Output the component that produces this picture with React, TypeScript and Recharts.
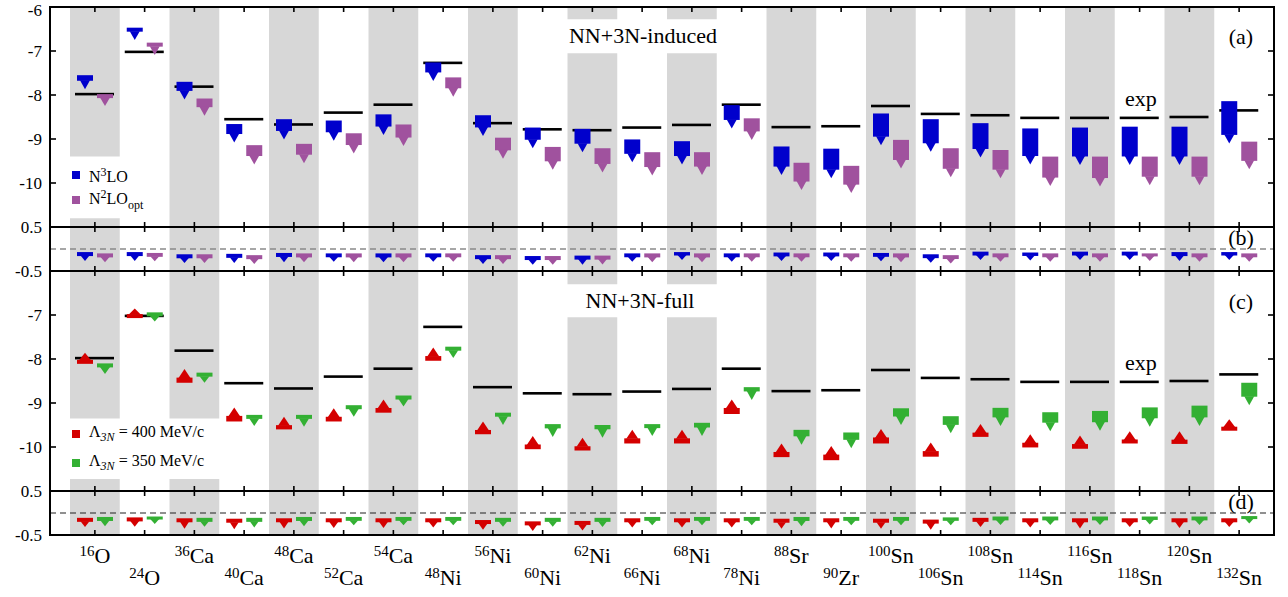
import React from 'react';
import { ComposedChart, Bar, XAxis, YAxis, ReferenceArea, ReferenceLine, Legend } from 'recharts';

// ---------- data ----------
const nuclei = ['16O', '24O', '36Ca', '40Ca', '48Ca', '52Ca', '54Ca', '48Ni', '56Ni', '60Ni', '62Ni', '66Ni', '68Ni', '78Ni', '88Sr', '90Zr', '100Sn', '106Sn', '108Sn', '114Sn', '116Sn', '118Sn', '120Sn', '132Sn'];
const massNumbers = ['16', '24', '36', '40', '48', '52', '54', '48', '56', '60', '62', '66', '68', '78', '88', '90', '100', '106', '108', '114', '116', '118', '120', '132'];
const elements = ['O', 'O', 'Ca', 'Ca', 'Ca', 'Ca', 'Ca', 'Ni', 'Ni', 'Ni', 'Ni', 'Ni', 'Ni', 'Ni', 'Sr', 'Zr', 'Sn', 'Sn', 'Sn', 'Sn', 'Sn', 'Sn', 'Sn', 'Sn'];

// experimental E/A (MeV)
const expEnergy = [-7.98, -7.02, -7.81, -8.55, -8.67, -8.40, -8.22, -7.27, -8.64, -8.78, -8.80, -8.74, -8.68, -8.22, -8.73, -8.71, -8.25, -8.43, -8.46, -8.52, -8.52, -8.52, -8.50, -8.35];

// (a) NN+3N-induced : [start, converged]
const n3loInduced = [[-7.55, -7.87], [-6.47, -6.75], [-7.70, -8.10], [-8.66, -9.08], [-8.55, -9.01], [-8.58, -9.04], [-8.44, -8.91], [-7.26, -7.68], [-8.46, -8.93], [-8.74, -9.21], [-8.77, -9.30], [-9.01, -9.53], [-9.05, -9.58], [-8.23, -8.76], [-9.17, -9.82], [-9.22, -9.89], [-8.42, -9.14], [-8.55, -9.29], [-8.64, -9.42], [-8.76, -9.58], [-8.74, -9.59], [-8.72, -9.59], [-8.72, -9.59], [-8.14, -9.10]];
const n2loOptInduced = [[-7.98, -8.25], [-6.81, -7.09], [-8.08, -8.47], [-9.14, -9.58], [-9.11, -9.55], [-8.87, -9.33], [-8.67, -9.16], [-7.60, -8.04], [-8.97, -9.45], [-9.18, -9.70], [-9.21, -9.76], [-9.30, -9.83], [-9.30, -9.82], [-8.53, -9.02], [-9.54, -10.16], [-9.61, -10.23], [-9.02, -9.67], [-9.21, -9.87], [-9.25, -9.89], [-9.40, -10.07], [-9.40, -10.08], [-9.40, -10.05], [-9.40, -10.05], [-9.06, -9.69]];

// (b) differences
const n3loDiff = [[-0.07, -0.27], [-0.07, -0.27], [-0.12, -0.32], [-0.11, -0.32], [-0.09, -0.30], [-0.10, -0.29], [-0.10, -0.30], [-0.10, -0.29], [-0.14, -0.34], [-0.16, -0.36], [-0.15, -0.36], [-0.10, -0.29], [-0.07, -0.25], [-0.10, -0.29], [-0.08, -0.27], [-0.08, -0.27], [-0.09, -0.28], [-0.12, -0.31], [-0.06, -0.25], [-0.08, -0.26], [-0.06, -0.25], [-0.06, -0.25], [-0.07, -0.27], [-0.07, -0.25]];
const n2loOptDiff = [[-0.10, -0.30], [-0.09, -0.28], [-0.12, -0.32], [-0.14, -0.34], [-0.10, -0.30], [-0.10, -0.30], [-0.10, -0.30], [-0.10, -0.29], [-0.14, -0.34], [-0.16, -0.36], [-0.15, -0.35], [-0.10, -0.30], [-0.10, -0.30], [-0.10, -0.29], [-0.10, -0.29], [-0.10, -0.29], [-0.10, -0.30], [-0.14, -0.33], [-0.10, -0.29], [-0.10, -0.29], [-0.10, -0.29], [-0.10, -0.27], [-0.10, -0.29], [-0.10, -0.29]];

// (c) NN+3N-full : [start, converged]
const lambda400Full = [[-8.11, -7.86], [-7.07, -6.85], [-8.54, -8.23], [-9.42, -9.10], [-9.60, -9.31], [-9.42, -9.12], [-9.22, -8.92], [-8.04, -7.74], [-9.71, -9.42], [-10.05, -9.75], [-10.08, -9.79], [-9.92, -9.61], [-9.92, -9.61], [-9.25, -8.92], [-10.23, -9.92], [-10.30, -9.98], [-9.92, -9.59], [-10.22, -9.90], [-9.77, -9.48], [-10.01, -9.71], [-10.04, -9.74], [-9.92, -9.64], [-9.93, -9.64], [-9.63, -9.37]];
const lambda350Full = [[-8.10, -8.34], [-6.94, -7.15], [-8.31, -8.54], [-9.27, -9.52], [-9.27, -9.54], [-9.05, -9.31], [-8.83, -9.08], [-7.72, -7.98], [-9.22, -9.50], [-9.48, -9.77], [-9.50, -9.79], [-9.48, -9.75], [-9.45, -9.75], [-8.64, -8.93], [-9.61, -9.95], [-9.67, -10.03], [-9.12, -9.50], [-9.30, -9.69], [-9.11, -9.52], [-9.21, -9.64], [-9.18, -9.63], [-9.10, -9.54], [-9.06, -9.52], [-8.54, -9.05]];

// (d) differences
const lambda400Diff = [[-0.11, -0.32], [-0.10, -0.31], [-0.12, -0.36], [-0.13, -0.37], [-0.12, -0.35], [-0.12, -0.34], [-0.12, -0.34], [-0.12, -0.33], [-0.16, -0.38], [-0.19, -0.41], [-0.18, -0.40], [-0.12, -0.33], [-0.12, -0.33], [-0.12, -0.33], [-0.13, -0.36], [-0.12, -0.35], [-0.13, -0.36], [-0.15, -0.38], [-0.11, -0.32], [-0.12, -0.33], [-0.12, -0.35], [-0.12, -0.32], [-0.12, -0.34], [-0.12, -0.32]];
const lambda350Diff = [[-0.09, -0.30], [-0.08, -0.24], [-0.11, -0.31], [-0.11, -0.33], [-0.09, -0.30], [-0.09, -0.28], [-0.09, -0.28], [-0.09, -0.28], [-0.11, -0.31], [-0.11, -0.31], [-0.11, -0.32], [-0.09, -0.28], [-0.09, -0.28], [-0.09, -0.28], [-0.09, -0.30], [-0.09, -0.28], [-0.09, -0.28], [-0.10, -0.28], [-0.08, -0.27], [-0.08, -0.27], [-0.08, -0.27], [-0.08, -0.26], [-0.08, -0.27], [-0.07, -0.24]];

const energyTicks = [-6, -7, -8, -9, -10];
const energyInnerTicks = [-7, -8, -9, -10];
const diffTicks = [0.5, -0.5];

// ---------- style / layout ----------
const FONT = '"Liberation Serif", "Times New Roman", Times, serif';
const BAND = '#d7d7d7';
const BLUE = '#0000cc';
const PURPLE = '#a0529e';
const RED = '#d40000';
const GREEN = '#33b033';
const LW = 2;
const AXIS = { stroke: '#000', strokeWidth: LW };
const CHART_W = 1288;
const Y_LEFT_W = 50;
const Y_RIGHT_W = 14;
const TOP_AXIS_H = 1;

const makeFlag = (color: string, dir: 'up' | 'down', triW: number) => (props: any) => {
  const { x, y, width, height } = props;
  if (![x, y, width, height].every((v) => typeof v === 'number' && isFinite(v))) return <g />;
  const top = Math.min(y, y + height);
  const h = Math.abs(height);
  const cx = x + width / 2;
  const triH = Math.min(8.5, Math.max(4.5, h - 4));
  const rectH = Math.max(h - triH, 3);
  if (dir === 'down') {
    const rb = top + rectH;
    return (
      <g>
        <rect x={x} y={top} width={width} height={rectH} fill={color} />
        <polygon points={`${cx - triW / 2},${rb - 0.5} ${cx + triW / 2},${rb - 0.5} ${cx},${rb + triH}`} fill={color} />
      </g>
    );
  }
  const rt = top + h - rectH;
  return (
    <g>
      <polygon points={`${cx},${rt - triH} ${cx - triW / 2},${rt + 0.5} ${cx + triW / 2},${rt + 0.5}`} fill={color} />
      <rect x={x} y={rt} width={width} height={rectH} fill={color} />
    </g>
  );
};

const expShape = (props: any) => {
  const { x, y, width, height } = props;
  if (![x, y, width].every((v) => typeof v === 'number' && isFinite(v))) return <g />;
  const yy = y + (height || 0) / 2;
  return <rect x={x} y={yy - 1.3} width={width} height={2.6} fill="#000" />;
};

const fmt = (v: number) => String(v);
const TK = 1.6; // tick mark thickness

const leftTick = (p: any) => {
  const v = p.payload.value;
  const ty = Math.max(p.y, 10);
  return (
    <text x={p.x - 8} y={ty} dy="0.35em" textAnchor="end" fontSize={17} fontFamily={FONT} fill="#000">{fmt(v)}</text>
  );
};
const topTick = (p: any) => <rect x={p.x - TK / 2} y={p.y} width={TK} height={5} fill="#000" />;
const makeBottomTick = (withLabel: boolean) => (p: any) => {
  const i = nuclei.indexOf(p.payload.value);
  return (
    <g>
      <rect x={p.x - TK / 2} y={p.y - 5} width={TK} height={5} fill="#000" />
      {withLabel && i >= 0 && (
        <text x={p.x} y={p.y + (i % 2 === 0 ? 28 : 50)} textAnchor="middle" fontFamily={FONT} fill="#000">
          <tspan fontSize={15} dy={-7}>{massNumbers[i]}</tspan>
          <tspan fontSize={22} dy={7}>{elements[i]}</tspan>
        </text>
      )}
    </g>
  );
};

const legendOrder = ['N3LO', 'N2LOopt', 'L400', 'L350'];
const legendLabels: Record<string, React.ReactNode> = {
  N3LO: <>N<sup style={{ fontSize: 12 }}>3</sup>LO</>,
  N2LOopt: <>N<sup style={{ fontSize: 12 }}>2</sup>LO<sub style={{ fontSize: 12 }}>opt</sub></>,
  L400: <>Λ<sub style={{ fontSize: 12, fontStyle: 'italic' }}>3N</sub>&nbsp;= 400 MeV/c</>,
  L350: <>Λ<sub style={{ fontSize: 12, fontStyle: 'italic' }}>3N</sub>&nbsp;= 350 MeV/c</>,
};

const makeLegend = (rowH: number) => (props: any) => {
  const items = (props.payload || [])
    .filter((e: any) => legendLabels[e.value])
    .sort((a: any, b: any) => legendOrder.indexOf(a.value) - legendOrder.indexOf(b.value));
  return (
    <div style={{ fontFamily: FONT, fontSize: 16, color: '#000' }}>
      {items.map((e: any) => (
        <div key={e.value} style={{ display: 'flex', alignItems: 'center', height: rowH, whiteSpace: 'nowrap' }}>
          <span style={{ display: 'inline-block', width: 8, height: 8, background: e.color, marginRight: 9 }} />
          <span style={{ lineHeight: 1 }}>{legendLabels[e.value]}</span>
        </div>
      ))}
    </div>
  );
};

type Series = { values: number[][]; name: string; color: string; dir: 'up' | 'down'; triW: number };
type PanelCfg = {
  top: number; height: number; mTop: number; mBottom: number; xh: number;
  domain: [number, number]; leftTicks: number[]; innerTicks: number[];
  series: Series[]; showExp: boolean; zero?: { stroke: string; dash: string; width: number };
  cuts: Record<string, number[][]>; labels: boolean;
  legend?: { top: number; rowH: number };
};

function Panel({ cfg }: { cfg: PanelCfg }) {
  const data = nuclei.map((name, i) => {
    const row: any = { name, exp: [expEnergy[i], expEnergy[i]] };
    cfg.series.forEach((s, k) => { row['s' + k] = s.values[i]; });
    return row;
  });
  const bands: { name: string; y1: number; y2: number }[] = [];
  nuclei.forEach((name, i) => {
    if (i % 2 !== 0) return;
    const segs = cfg.cuts[name] || [[cfg.domain[0], cfg.domain[1]]];
    segs.forEach((s) => bands.push({ name, y1: s[0], y2: s[1] }));
  });
  return (
    <div style={{ position: 'absolute', left: 0, top: cfg.top }}>
      <ComposedChart width={CHART_W} height={cfg.height} data={data} barGap={4}
        margin={{ top: cfg.mTop, right: 0, bottom: cfg.mBottom, left: 0 }}>
        {bands.map((b, k) => (
          <ReferenceArea key={'band' + k} xAxisId="b" yAxisId="l" x1={b.name} x2={b.name} y1={b.y1} y2={b.y2}
            fill={BAND} fillOpacity={1} stroke="none" />
        ))}
        {cfg.zero && (
          <ReferenceLine xAxisId="b" yAxisId="l" y={0} stroke={cfg.zero.stroke} strokeDasharray={cfg.zero.dash} strokeWidth={cfg.zero.width} />
        )}
        <XAxis xAxisId="t" dataKey="name" orientation="top" height={TOP_AXIS_H} tickSize={0} tickMargin={0} interval={0}
          padding={{ left: 20, right: 10 }} stroke="#000" axisLine={AXIS} tickLine={false} tick={topTick} />
        <XAxis xAxisId="b" dataKey="name" orientation="bottom" height={cfg.xh} tickSize={0} tickMargin={0} interval={0}
          padding={{ left: 20, right: 10 }} stroke="#000" axisLine={AXIS} tickLine={false} tick={makeBottomTick(cfg.labels)} />
        <YAxis yAxisId="l" orientation="left" width={Y_LEFT_W} type="number" domain={cfg.domain} allowDataOverflow
          ticks={cfg.leftTicks} interval={0} tickSize={0} tickMargin={0} stroke="#000" axisLine={AXIS} tickLine={false}
          tick={leftTick} />
        <YAxis yAxisId="r" orientation="right" width={Y_RIGHT_W} type="number" domain={cfg.domain} allowDataOverflow
          ticks={cfg.leftTicks} interval={0} tickSize={0} tickMargin={0} stroke="#000" axisLine={AXIS} tickLine={false}
          tick={false} />
        {cfg.showExp && (
          <Bar xAxisId="t" yAxisId="l" dataKey="exp" name="exp" barSize={39} fill="#000" legendType="none"
            shape={expShape} isAnimationActive={false} />
        )}
        {cfg.series.map((s, k) => (
          <Bar key={s.name} xAxisId="b" yAxisId="l" dataKey={'s' + k} name={s.name} fill={s.color} barSize={16}
            legendType="square" shape={makeFlag(s.color, s.dir, s.triW)} isAnimationActive={false} />
        ))}
        {cfg.legend && (
          <Legend layout="vertical" align="center" verticalAlign="middle"
            wrapperStyle={{ left: 72, top: cfg.legend.top, width: 220, height: 'auto' }}
            content={makeLegend(cfg.legend.rowH)} />
        )}
      </ComposedChart>
    </div>
  );
}

const panelA: PanelCfg = {
  top: 0, height: 230, mTop: 6, mBottom: 2, xh: 1, domain: [-11, -6],
  leftTicks: energyTicks, innerTicks: energyInnerTicks,
  series: [
    { values: n3loInduced, name: 'N3LO', color: BLUE, dir: 'down', triW: 10 },
    { values: n2loOptInduced, name: 'N2LOopt', color: PURPLE, dir: 'down', triW: 10 },
  ],
  showExp: true,
  cuts: { '16O': [[-11, -10.8], [-9.4, -6]], '62Ni': [[-11, -7.05], [-6.28, -6]], '68Ni': [[-11, -7.05], [-6.28, -6]] },
  labels: false,
  legend: { top: 163, rowH: 24.4 },
};
const panelB: PanelCfg = {
  top: 212, height: 70, mTop: 14, mBottom: 10, xh: 1, domain: [-0.5, 0.5],
  leftTicks: diffTicks, innerTicks: [],
  series: [
    { values: n3loDiff, name: 'N3LO', color: BLUE, dir: 'down', triW: 9 },
    { values: n2loOptDiff, name: 'N2LOopt', color: PURPLE, dir: 'down', triW: 9 },
  ],
  showExp: false, zero: { stroke: '#8a8a8a', dash: '6 4', width: 1.3 }, cuts: {}, labels: false,
};
const panelC: PanelCfg = {
  top: 264, height: 234, mTop: 6, mBottom: 6, xh: 1, domain: [-11, -6],
  leftTicks: energyInnerTicks, innerTicks: energyInnerTicks,
  series: [
    { values: lambda400Full, name: 'L400', color: RED, dir: 'up', triW: 12 },
    { values: lambda350Full, name: 'L350', color: GREEN, dir: 'down', triW: 10 },
  ],
  showExp: true,
  cuts: {
    '16O': [[-11, -10.73], [-9.35, -6]], '36Ca': [[-11, -10.73], [-9.35, -6]],
    '62Ni': [[-11, -7.05], [-6.3, -6]], '68Ni': [[-11, -7.05], [-6.3, -6]],
  },
  labels: false,
  legend: { top: 155.2, rowH: 29 },
};
const panelD: PanelCfg = {
  top: 476, height: 121, mTop: 14, mBottom: 0, xh: 62, domain: [-0.5, 0.5],
  leftTicks: diffTicks, innerTicks: [],
  series: [
    { values: lambda400Diff, name: 'L400', color: RED, dir: 'down', triW: 9 },
    { values: lambda350Diff, name: 'L350', color: GREEN, dir: 'down', triW: 9 },
  ],
  showExp: false, zero: { stroke: '#222', dash: '6 4', width: 1.1 }, cuts: {}, labels: true,
};
const panels = [panelA, panelB, panelC, panelD];

// side frame lines + inward y ticks for each panel, derived from the panel layouts above
function SideFrames() {
  const xl = Y_LEFT_W;
  const xr = CHART_W - Y_RIGHT_W;
  return (
    <g>
      {panels.map((p, k) => {
        const y0 = p.top + p.mTop + TOP_AXIS_H;
        const y1 = p.top + p.height - p.mBottom - p.xh;
        const toY = (v: number) => y0 + ((p.domain[1] - v) / (p.domain[1] - p.domain[0])) * (y1 - y0);
        return (
          <g key={k}>
            <rect x={xl - LW / 2} y={y0 - LW / 2} width={LW} height={y1 - y0 + LW} fill="#000" />
            <rect x={xr - LW / 2} y={y0 - LW / 2} width={LW} height={y1 - y0 + LW} fill="#000" />
            {p.innerTicks.map((v) => (
              <g key={v}>
                <rect x={xl} y={toY(v) - TK / 2} width={6} height={TK} fill="#000" />
                <rect x={xr - 6} y={toY(v) - TK / 2} width={6} height={TK} fill="#000" />
              </g>
            ))}
          </g>
        );
      })}
    </g>
  );
}

const annotations = [
  { text: 'NN+3N-induced', x: 643, y: 43 },
  { text: '(a)', x: 1241, y: 44 },
  { text: 'exp', x: 1141, y: 106 },
  { text: '(b)', x: 1241, y: 245 },
  { text: 'NN+3N-full', x: 640, y: 308 },
  { text: '(c)', x: 1241, y: 309 },
  { text: 'exp', x: 1141, y: 370 },
  { text: '(d)', x: 1241, y: 509 },
];

export default function App() {
  return (
    <div style={{ position: 'absolute', left: 0, top: 0, width: 1288, height: 597, background: '#fff', overflow: 'hidden' }}>
      {panels.map((p, k) => <Panel key={k} cfg={p} />)}
      <svg width={1288} height={597} style={{ position: 'absolute', left: 0, top: 0, pointerEvents: 'none' }}>
        <SideFrames />
        {annotations.map((a, k) => (
          <text key={k} x={a.x} y={a.y} textAnchor="middle" fontFamily={FONT} fontSize={22} fill="#000">{a.text}</text>
        ))}
      </svg>
    </div>
  );
}
